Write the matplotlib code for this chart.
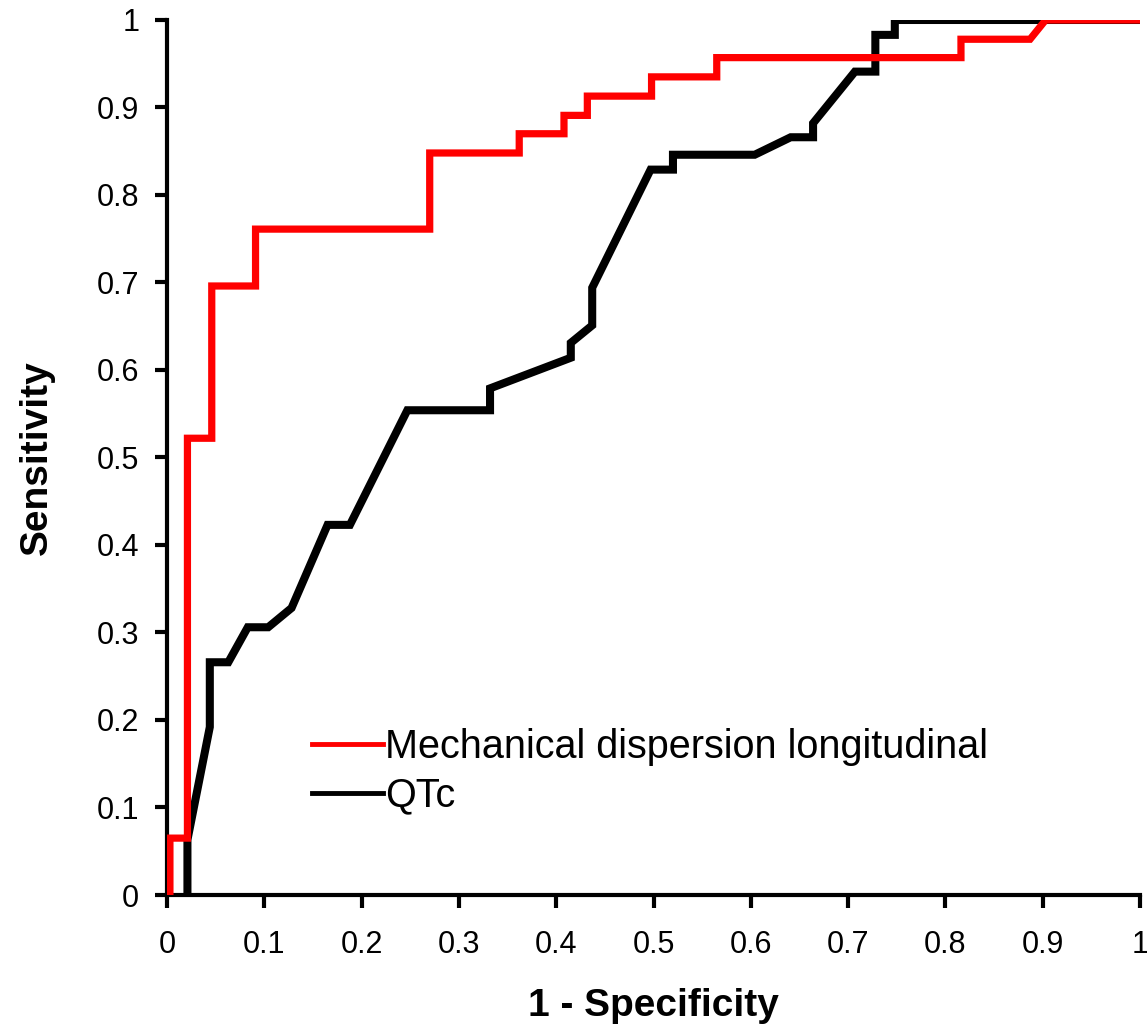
import matplotlib
matplotlib.use('Agg')
import matplotlib.pyplot as plt
from matplotlib.lines import Line2D

plt.rcParams['font.family'] = ['Liberation Sans', 'DejaVu Sans']

x_label = '1 - Specificity'
y_label = 'Sensitivity'
red_label = 'Mechanical dispersion longitudinal'
black_label = 'QTc'

# ROC curve for mechanical dispersion (red)
red_x = [0, 0.003, 0.003, 0.021, 0.021, 0.046, 0.046, 0.091, 0.091, 0.270, 0.270,
         0.362, 0.362, 0.408, 0.408, 0.432, 0.432, 0.498, 0.498, 0.565, 0.565,
         0.816, 0.816, 0.887, 0.903, 1.0]
red_y = [0, 0, 0.065, 0.065, 0.522, 0.522, 0.696, 0.696, 0.761, 0.761, 0.848,
         0.848, 0.870, 0.870, 0.891, 0.891, 0.913, 0.913, 0.935, 0.935, 0.957,
         0.957, 0.978, 0.978, 1.0, 1.0]

# ROC curve for QTc (black)
black_x = [0.021, 0.021, 0.044, 0.044, 0.063, 0.083, 0.104, 0.128, 0.165, 0.188,
           0.247, 0.332, 0.332, 0.415, 0.415, 0.437, 0.437, 0.497, 0.520, 0.520,
           0.604, 0.641, 0.664, 0.664, 0.707, 0.728, 0.728, 0.748, 0.748, 1.0]
black_y = [0, 0.063, 0.192, 0.266, 0.266, 0.306, 0.306, 0.328, 0.423, 0.423,
           0.554, 0.554, 0.579, 0.614, 0.631, 0.651, 0.694, 0.829, 0.829, 0.846,
           0.846, 0.866, 0.866, 0.882, 0.941, 0.941, 0.983, 0.983, 1.0, 1.0]

ticks = [0, 0.1, 0.2, 0.3, 0.4, 0.5, 0.6, 0.7, 0.8, 0.9, 1]
tick_labels = ['0', '0.1', '0.2', '0.3', '0.4', '0.5', '0.6', '0.7', '0.8', '0.9', '1']

fig = plt.figure(figsize=(11.47, 10.36), dpi=100)
ax = fig.add_axes([0.1456, 0.1361, 0.8483, 0.8446])

ax.plot(black_x, black_y, color='black', lw=5.8, solid_joinstyle='miter', zorder=2)
ax.plot(red_x, red_y, color='#ff0000', lw=5.2, solid_joinstyle='miter', zorder=3)

ax.set_xlim(0, 1)
ax.set_ylim(0, 1)
ax.set_xticks(ticks)
ax.set_xticklabels(tick_labels)
ax.set_yticks(ticks)
ax.set_yticklabels(tick_labels)

for s in ['top', 'right']:
    ax.spines[s].set_visible(False)
for s in ['left', 'bottom']:
    ax.spines[s].set_linewidth(3)
ax.tick_params(axis='both', direction='out', length=9, width=3, labelsize=22)
ax.tick_params(axis='x', pad=16)
ax.tick_params(axis='y', pad=11)

ax.set_xlabel(x_label, fontsize=28, fontweight='bold')
ax.set_ylabel(y_label, fontsize=28, fontweight='bold')
ax.xaxis.set_label_coords(0.5, -0.106)
ax.yaxis.set_label_coords(-0.115, 0.5)

handles = [Line2D([], [], color='#ff0000', lw=3.5), Line2D([], [], color='black', lw=3.5)]
ax.legend(handles, [red_label, black_label], loc='upper left',
          bbox_to_anchor=(0.149, 0.191), frameon=False, fontsize=28.5,
          handlelength=1.8, handletextpad=0.05, labelspacing=0.27,
          borderpad=0, borderaxespad=0)

fig.savefig('out.png', dpi=100)
